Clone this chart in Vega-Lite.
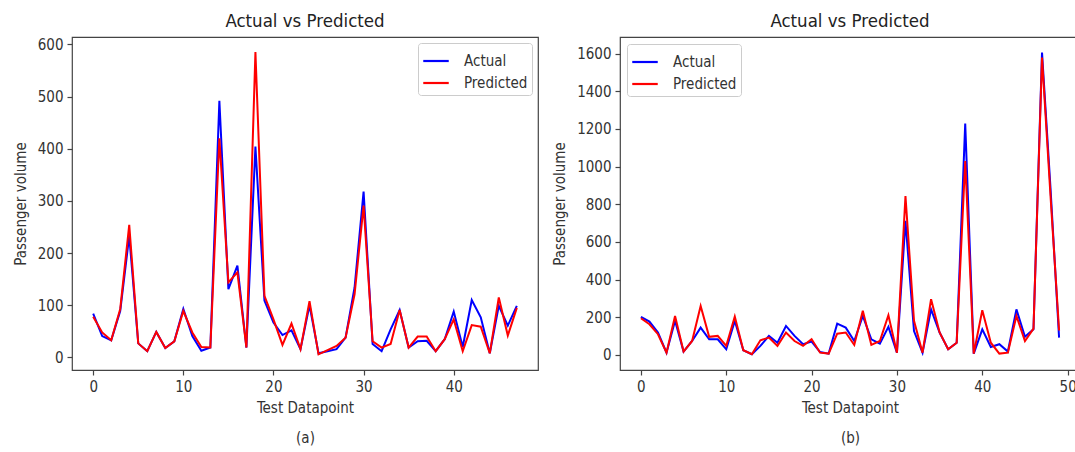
{
  "$schema": "https://vega.github.io/schema/vega-lite/v6.json",
  "background": "white",
  "padding": {"left": 12, "top": 10, "right": 0, "bottom": 0},
  "spacing": 13,
  "config": {
    "font": "DejaVu Sans Condensed, DejaVu Sans",
    "view": {"stroke": "#444", "strokeWidth": 1.2},
    "axis": {
      "domain": false, "grid": false, "tickColor": "#444", "tickSize": 5, "tickWidth": 1.2,
      "labelFont": "DejaVu Sans Condensed, DejaVu Sans", "labelFontSize": 15, "labelColor": "#333", "labelPadding": 4,
      "titleFont": "DejaVu Sans Condensed, DejaVu Sans", "titleFontSize": 15, "titleFontWeight": "normal", "titleColor": "#333"
    },
    "legend": {
      "labelFont": "DejaVu Sans Condensed, DejaVu Sans", "labelFontSize": 15, "labelColor": "#333",
      "symbolType": "stroke", "symbolSize": 650, "symbolStrokeWidth": 2.2, "labelOffset": 14,
      "fillColor": "white", "strokeColor": "#ccc", "cornerRadius": 3, "padding": 4, "rowPadding": -3
    },
    "title": {"font": "DejaVu Sans Condensed, DejaVu Sans", "fontSize": 18.5, "fontWeight": "normal", "color": "#222", "offset": 7}
  },
  "datasets": {
    "a": [
      {"i":0,"s":"Actual","v":84},{"i":1,"s":"Actual","v":41},{"i":2,"s":"Actual","v":33},{"i":3,"s":"Actual","v":89},{"i":4,"s":"Actual","v":233},{"i":5,"s":"Actual","v":27},{"i":6,"s":"Actual","v":12},{"i":7,"s":"Actual","v":49},{"i":8,"s":"Actual","v":18},{"i":9,"s":"Actual","v":31},
      {"i":10,"s":"Actual","v":93},{"i":11,"s":"Actual","v":41},{"i":12,"s":"Actual","v":13},{"i":13,"s":"Actual","v":19},{"i":14,"s":"Actual","v":492},{"i":15,"s":"Actual","v":131},{"i":16,"s":"Actual","v":176},{"i":17,"s":"Actual","v":19},{"i":18,"s":"Actual","v":404},{"i":19,"s":"Actual","v":109},
      {"i":20,"s":"Actual","v":67},{"i":21,"s":"Actual","v":43},{"i":22,"s":"Actual","v":52},{"i":23,"s":"Actual","v":16},{"i":24,"s":"Actual","v":100},{"i":25,"s":"Actual","v":8},{"i":26,"s":"Actual","v":12},{"i":27,"s":"Actual","v":16},{"i":28,"s":"Actual","v":38},{"i":29,"s":"Actual","v":134},
      {"i":30,"s":"Actual","v":318},{"i":31,"s":"Actual","v":26},{"i":32,"s":"Actual","v":12},{"i":33,"s":"Actual","v":54},{"i":34,"s":"Actual","v":91},{"i":35,"s":"Actual","v":19},{"i":36,"s":"Actual","v":31},{"i":37,"s":"Actual","v":32},{"i":38,"s":"Actual","v":12},{"i":39,"s":"Actual","v":35},
      {"i":40,"s":"Actual","v":88},{"i":41,"s":"Actual","v":20},{"i":42,"s":"Actual","v":110},{"i":43,"s":"Actual","v":77},{"i":44,"s":"Actual","v":8},{"i":45,"s":"Actual","v":99},{"i":46,"s":"Actual","v":61},{"i":47,"s":"Actual","v":99},
      {"i":0,"s":"Predicted","v":78},{"i":1,"s":"Predicted","v":48},{"i":2,"s":"Predicted","v":33},{"i":3,"s":"Predicted","v":93},{"i":4,"s":"Predicted","v":254},{"i":5,"s":"Predicted","v":27},{"i":6,"s":"Predicted","v":12},{"i":7,"s":"Predicted","v":49},{"i":8,"s":"Predicted","v":18},{"i":9,"s":"Predicted","v":31},
      {"i":10,"s":"Predicted","v":89},{"i":11,"s":"Predicted","v":48},{"i":12,"s":"Predicted","v":20},{"i":13,"s":"Predicted","v":19},{"i":14,"s":"Predicted","v":420},{"i":15,"s":"Predicted","v":144},{"i":16,"s":"Predicted","v":163},{"i":17,"s":"Predicted","v":19},{"i":18,"s":"Predicted","v":585},{"i":19,"s":"Predicted","v":118},
      {"i":20,"s":"Predicted","v":73},{"i":21,"s":"Predicted","v":24},{"i":22,"s":"Predicted","v":65},{"i":23,"s":"Predicted","v":16},{"i":24,"s":"Predicted","v":108},{"i":25,"s":"Predicted","v":6},{"i":26,"s":"Predicted","v":14},{"i":27,"s":"Predicted","v":22},{"i":28,"s":"Predicted","v":38},{"i":29,"s":"Predicted","v":121},
      {"i":30,"s":"Predicted","v":291},{"i":31,"s":"Predicted","v":31},{"i":32,"s":"Predicted","v":19},{"i":33,"s":"Predicted","v":26},{"i":34,"s":"Predicted","v":91},{"i":35,"s":"Predicted","v":19},{"i":36,"s":"Predicted","v":40},{"i":37,"s":"Predicted","v":40},{"i":38,"s":"Predicted","v":12},{"i":39,"s":"Predicted","v":35},
      {"i":40,"s":"Predicted","v":73},{"i":41,"s":"Predicted","v":12},{"i":42,"s":"Predicted","v":62},{"i":43,"s":"Predicted","v":59},{"i":44,"s":"Predicted","v":8},{"i":45,"s":"Predicted","v":115},{"i":46,"s":"Predicted","v":42},{"i":47,"s":"Predicted","v":95}
    ],
    "b": [
      {"i":0,"s":"Actual","v":202},{"i":1,"s":"Actual","v":177},{"i":2,"s":"Actual","v":119},{"i":3,"s":"Actual","v":12},{"i":4,"s":"Actual","v":181},{"i":5,"s":"Actual","v":18},{"i":6,"s":"Actual","v":74},{"i":7,"s":"Actual","v":145},{"i":8,"s":"Actual","v":83},{"i":9,"s":"Actual","v":83},
      {"i":10,"s":"Actual","v":30},{"i":11,"s":"Actual","v":181},{"i":12,"s":"Actual","v":25},{"i":13,"s":"Actual","v":4},{"i":14,"s":"Actual","v":48},{"i":15,"s":"Actual","v":101},{"i":16,"s":"Actual","v":65},{"i":17,"s":"Actual","v":154},{"i":18,"s":"Actual","v":101},{"i":19,"s":"Actual","v":57},
      {"i":20,"s":"Actual","v":71},{"i":21,"s":"Actual","v":15},{"i":22,"s":"Actual","v":7},{"i":23,"s":"Actual","v":166},{"i":24,"s":"Actual","v":145},{"i":25,"s":"Actual","v":74},{"i":26,"s":"Actual","v":207},{"i":27,"s":"Actual","v":83},{"i":28,"s":"Actual","v":60},{"i":29,"s":"Actual","v":149},
      {"i":30,"s":"Actual","v":12},{"i":31,"s":"Actual","v":712},{"i":32,"s":"Actual","v":127},{"i":33,"s":"Actual","v":12},{"i":34,"s":"Actual","v":242},{"i":35,"s":"Actual","v":119},{"i":36,"s":"Actual","v":30},{"i":37,"s":"Actual","v":65},{"i":38,"s":"Actual","v":1228},{"i":39,"s":"Actual","v":7},
      {"i":40,"s":"Actual","v":136},{"i":41,"s":"Actual","v":42},{"i":42,"s":"Actual","v":57},{"i":43,"s":"Actual","v":18},{"i":44,"s":"Actual","v":242},{"i":45,"s":"Actual","v":96},{"i":46,"s":"Actual","v":136},{"i":47,"s":"Actual","v":1605},{"i":48,"s":"Actual","v":880},{"i":49,"s":"Actual","v":92},
      {"i":0,"s":"Predicted","v":195},{"i":1,"s":"Predicted","v":163},{"i":2,"s":"Predicted","v":110},{"i":3,"s":"Predicted","v":12},{"i":4,"s":"Predicted","v":207},{"i":5,"s":"Predicted","v":18},{"i":6,"s":"Predicted","v":74},{"i":7,"s":"Predicted","v":260},{"i":8,"s":"Predicted","v":96},{"i":9,"s":"Predicted","v":101},
      {"i":10,"s":"Predicted","v":48},{"i":11,"s":"Predicted","v":204},{"i":12,"s":"Predicted","v":25},{"i":13,"s":"Predicted","v":4},{"i":14,"s":"Predicted","v":78},{"i":15,"s":"Predicted","v":92},{"i":16,"s":"Predicted","v":48},{"i":17,"s":"Predicted","v":119},{"i":18,"s":"Predicted","v":74},{"i":19,"s":"Predicted","v":48},
      {"i":20,"s":"Predicted","v":83},{"i":21,"s":"Predicted","v":12},{"i":22,"s":"Predicted","v":7},{"i":23,"s":"Predicted","v":113},{"i":24,"s":"Predicted","v":119},{"i":25,"s":"Predicted","v":53},{"i":26,"s":"Predicted","v":234},{"i":27,"s":"Predicted","v":53},{"i":28,"s":"Predicted","v":74},{"i":29,"s":"Predicted","v":211},
      {"i":30,"s":"Predicted","v":12},{"i":31,"s":"Predicted","v":844},{"i":32,"s":"Predicted","v":181},{"i":33,"s":"Predicted","v":12},{"i":34,"s":"Predicted","v":296},{"i":35,"s":"Predicted","v":119},{"i":36,"s":"Predicted","v":30},{"i":37,"s":"Predicted","v":65},{"i":38,"s":"Predicted","v":1030},{"i":39,"s":"Predicted","v":7},
      {"i":40,"s":"Predicted","v":237},{"i":41,"s":"Predicted","v":65},{"i":42,"s":"Predicted","v":7},{"i":43,"s":"Predicted","v":12},{"i":44,"s":"Predicted","v":207},{"i":45,"s":"Predicted","v":74},{"i":46,"s":"Predicted","v":140},{"i":47,"s":"Predicted","v":1579},{"i":48,"s":"Predicted","v":840},{"i":49,"s":"Predicted","v":130}
    ]
  },
  "resolve": {"scale": {"color": "independent"}, "legend": {"color": "independent"}},
  "hconcat": [
    {
      "width": 466, "height": 333,
      "title": {"text": "Actual vs Predicted"},
      "data": {"name": "a"},
      "mark": {"type": "line", "strokeWidth": 2, "clip": true},
      "encoding": {
        "x": {"field": "i", "type": "quantitative", "scale": {"domain": [-2.35, 49.35], "nice": false, "zero": false},
              "axis": {"values": [0, 10, 20, 30, 40], "format": "d", "title": ["Test Datapoint", "(a)"], "titleLineHeight": 30, "titlePadding": 6}},
        "y": {"field": "v", "type": "quantitative", "scale": {"domain": [-24, 614], "nice": false, "zero": false},
              "axis": {"values": [0, 100, 200, 300, 400, 500, 600], "format": "d", "title": "Passenger volume", "titlePadding": 9}},
        "color": {"field": "s", "type": "nominal", "scale": {"domain": ["Actual", "Predicted"], "range": ["#0000ff", "#ff0000"]},
                  "legend": {"orient": "top-right", "title": null, "offset": 6}}
      }
    },
    {
      "width": 460, "height": 333,
      "title": {"text": "Actual vs Predicted"},
      "data": {"name": "b"},
      "mark": {"type": "line", "strokeWidth": 2, "clip": true},
      "encoding": {
        "x": {"field": "i", "type": "quantitative", "scale": {"domain": [-2.45, 51.45], "nice": false, "zero": false},
              "axis": {"values": [0, 10, 20, 30, 40, 50], "format": "d", "title": ["Test Datapoint", "(b)"], "titleLineHeight": 30, "titlePadding": 6}},
        "y": {"field": "v", "type": "quantitative", "scale": {"domain": [-80, 1688], "nice": false, "zero": false},
              "axis": {"values": [0, 200, 400, 600, 800, 1000, 1200, 1400, 1600], "format": "d", "title": "Passenger volume", "titlePadding": 9}},
        "color": {"field": "s", "type": "nominal", "scale": {"domain": ["Actual", "Predicted"], "range": ["#0000ff", "#ff0000"]},
                  "legend": {"orient": "top-left", "title": null, "offset": 7}}
      }
    }
  ]
}
